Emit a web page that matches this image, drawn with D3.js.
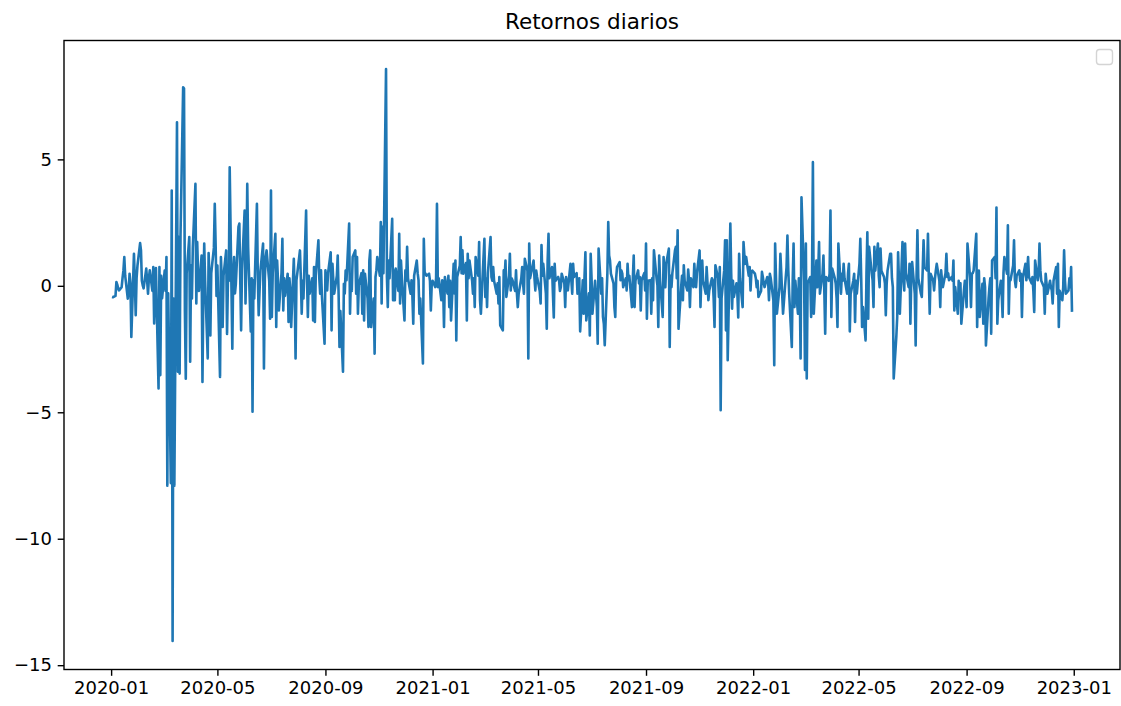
<!DOCTYPE html>
<html>
<head>
<meta charset="utf-8">
<script src="https://cdn.jsdelivr.net/npm/d3@7"></script>
<style>
    body { margin: 0; background: #fff; }
    svg { display: block; font-family: "DejaVu Sans", sans-serif; }
</style>
</head>
<body>
<div id="chart"></div>
<script>
// first and last trading day of the series (one value per weekday)
var startDate = '2020-01-02';
var endDate = '2022-12-30';

// daily returns (%), one per weekday
var returns = [
    -0.44, -0.45, -0.40, 0.15, 0.05, -0.10, -0.18, -0.05, 0.30, 0.60,
    1.14, 0.40, -0.51, -0.20, 0.48, 0.10, -2.02, 1.27, 0.20, -1.16,
    0.30, 0.80, 1.69, 1.40, 0.20, 0.02, -0.10, 0.68, 0.20, -0.31,
    0.30, 0.61, -0.20, 0.74, -1.49, -0.30, 0.70, -4.06, 0.74, -3.53,
    0.40, -0.50, 0.60, -0.20, 1.14, -7.90, -0.30, -7.80, 3.77, -14.04,
    -0.50, -7.90, 6.47, -3.40, 1.93, -3.47, 2.00, 7.85, 7.80, -1.00,
    -3.67, 0.50, 1.93, -3.00, 0.80, -0.50, 1.50, 4.03, -0.70, 1.73,
    0.50, -0.20, 1.20, -3.80, -0.30, 1.67, 0.20, -2.87, 1.30, 0.30,
    -1.96, 0.50, 1.50, 3.24, 1.60, -0.40, 0.80, -3.60, 1.14, 0.20,
    -1.63, 0.40, 1.40, -1.90, 0.22, 0.20, 4.69, -2.49, 0.50, 1.14,
    -0.30, 0.08, 2.33, 2.46, 0.30, -1.76, 0.60, 2.98, -0.70, 1.00,
    4.03, 1.53, -1.80, 0.30, -4.98, 0.22, -0.50, 3.24, 0.40, -1.16,
    -0.18, 0.60, 1.67, -3.27, 0.30, 1.14, 1.40, 0.20, -1.30, 3.77,
    -1.23, 0.50, 2.06, -1.63, 1.00, 0.20, -0.97, 0.50, 1.86, -0.97,
    0.30, -0.40, 0.48, -1.43, 0.30, -0.18, -1.63, 1.07, -0.30, -2.87,
    0.22, 0.50, 1.40, 0.30, -1.10, 0.20, -0.50, 2.98, 0.30, -1.23,
    0.40, -0.31, 0.30, -1.37, 0.74, -1.43, 0.40, 1.80, 0.30, -0.31,
    0.61, -0.40, -2.29, 0.61, 0.10, -0.18, 0.50, 1.33, -1.76, 0.87,
    0.20, -0.31, 0.40, 1.20, -0.31, -2.42, -1.00, -3.40, 0.08, -0.30,
    0.60, 0.22, 2.46, -1.10, 0.40, -0.20, 1.14, 1.40, -0.31, 1.14,
    -1.10, 0.02, 0.50, -1.10, 0.61, -1.37, 0.48, -0.50, -1.63, 1.00,
    1.40, -1.63, -0.50, -2.68, 0.35, 0.60, 1.14, 0.40, 2.52, -0.70,
    2.33, 0.50, 8.57, 0.35, -0.84, 1.00, 0.30, 2.65, -0.57, 0.61,
    -0.57, 0.68, -0.20, 2.06, -0.70, 1.00, 0.30, -1.37, 0.61, 0.20,
    1.54, 0.30, -0.31, 0.22, -0.40, -1.50, 0.40, 1.00, 0.50, 0.22,
    -1.10, -0.50, -3.07, 1.86, 0.50, 0.48, 0.40, 0.48, 0.20, -0.97,
    0.02, 0.20, -0.05, 0.30, 3.24, -0.05, 0.30, -0.57, 0.22, 0.00,
    -1.63, 0.35, -0.31, 0.40, -0.84, 0.20, -1.37, 0.87, -0.30, 1.00,
    -2.16, 0.35, 0.80, 1.93, 0.50, 1.40, 0.48, 0.90, -1.37, 1.27,
    0.30, 1.00, 0.20, -0.31, 0.30, -0.84, 1.14, 0.40, 1.73, -0.57,
    -1.10, -0.31, 1.86, -0.44, 0.30, -0.84, 0.50, 1.93, 0.35, 0.20,
    0.74, 0.20, -0.31, 0.10, -0.70, 0.35, -1.56, -1.76, 0.61, 0.30,
    1.00, -0.44, 0.40, 1.27, -0.18, 0.30, 0.22, -0.20, 0.61, -0.30,
    -0.84, -0.31, 0.30, 0.74, 0.10, -0.31, 1.07, 0.60, -2.87, 1.67,
    0.30, 0.48, 1.00, 0.30, -0.18, 0.60, 0.35, -0.20, -0.70, 1.61,
    0.40, 0.87, -0.30, -1.70, 1.00, 2.06, 0.30, 0.74, -0.30, -1.25,
    0.87, 0.20, 0.35, 0.22, -0.20, -0.05, 0.48, 0.10, -0.84, 0.35,
    0.10, -0.18, 0.87, 0.20, -0.31, 0.87, 0.35, 0.50, -0.31, -0.05,
    0.30, -1.80, 0.22, -1.10, 0.40, 1.33, -1.37, -0.30, -1.96, 1.27,
    0.30, -1.10, 0.20, -0.31, -0.80, -2.29, 1.47, -0.31, 0.30, -1.23,
    -1.50, -2.35, 0.50, 2.52, 1.20, 1.00, 0.48, 0.10, -0.84, -1.23,
    0.30, 0.74, 0.94, 0.22, 0.60, 0.48, -0.05, 0.30, -0.18, 0.87,
    0.22, 0.40, -0.84, 0.30, 1.20, -0.84, 0.20, 0.61, 0.10, 0.35,
    -0.97, 0.22, 0.50, -0.18, 1.67, -1.30, 0.20, 0.22, -1.10, 0.30,
    -0.57, 1.40, 0.30, 0.02, -1.63, 1.20, 0.20, -1.23, 1.14, 0.30,
    -0.05, 0.87, 1.47, -2.42, 0.40, -0.05, 0.50, 1.40, 1.54, 0.30,
    2.20, -1.70, -0.05, 0.40, -0.57, 0.81, 0.20, -0.18, 0.64, 0.20,
    -0.84, 0.30, -0.05, 0.87, 0.20, -0.05, 0.50, 1.40, -0.84, 0.30,
    1.00, 0.20, -0.31, 0.74, 0.10, -0.57, -0.18, 0.30, 0.22, -0.50,
    -1.63, 0.81, 0.30, -0.44, 0.74, -4.92, -0.50, 0.61, 1.80, -1.76,
    1.80, -2.94, 2.46, 0.50, -0.90, 0.20, -0.44, 0.10, -0.31, -1.25,
    1.27, 0.30, -0.84, 1.73, 1.20, 0.87, 1.14, 0.40, 0.74, -0.18,
    0.55, 0.60, 0.48, 0.30, -0.05, 0.20, -0.44, -0.20, 0.55, 0.35,
    0.10, -0.05, 0.35, 0.20, -0.57, 0.48, 0.30, -0.57, -3.14, 1.67,
    0.30, -1.10, -0.05, 1.27, 0.50, -0.31, -1.10, 0.30, 0.74, 1.99,
    0.60, -0.31, -2.42, 0.20, 1.67, -0.84, 0.20, -1.10, 0.30, 0.02,
    -2.87, 3.50, 0.20, -3.33, 1.67, -3.66, 0.10, 0.35, -1.23, 0.30,
    4.89, -1.10, 1.00, -0.05, 0.50, 1.73, -0.31, 0.48, 1.20, -0.20,
    -1.89, 0.35, 0.20, 0.48, 2.98, -1.23, 0.68, 0.30, 0.08, -0.50,
    -1.63, 1.67, -0.31, 0.48, 0.20, 0.87, 0.30, -0.31, 0.48, 0.87,
    -1.80, -0.31, 0.20, 0.48, -1.43, 0.20, -0.31, 0.87, 1.86, 0.30,
    -1.63, -0.84, -2.16, 0.50, 2.12, -1.30, 1.54, 0.50, 0.22, -0.84,
    1.54, 0.60, 1.67, 0.40, -0.05, 1.47, 0.60, 0.35, 0.10, -1.16,
    0.08, 0.60, 1.27, 1.27, 0.30, -0.05, -3.66, -2.00, -1.23, 1.33,
    0.20, -1.10, 1.73, 0.30, -0.18, 1.67, 0.50, -0.05, 0.87, -1.50,
    0.30, 0.94, -0.31, -2.36, 0.35, 2.20, 0.30, -0.31, -0.44, 0.60,
    1.80, 0.74, 0.61, 2.06, 0.30, -1.10, 0.48, 0.20, -0.18, 0.30,
    0.61, 0.87, 0.20, -0.84, 0.61, 0.22, -0.05, 0.50, 1.27, 0.35,
    0.50, 0.22, 0.35, 0.20, 1.00, -0.97, -0.05, -1.10, 0.20, -0.31,
    0.10, -1.50, -0.18, 0.20, -0.18, -0.84, 1.67, 0.30, -0.84, 0.48,
    0.50, 0.60, 2.06, -1.63, 0.35, 0.60, -1.23, 0.08, -1.50, 0.30,
    -0.05, -2.36, -0.50, -0.05, 0.30, -1.89, 1.00, 1.14, 0.30, 3.10,
    -1.50, -0.57, 0.20, -0.31, -1.23, 0.50, 1.14, 0.48, 2.39, -1.10,
    0.30, 0.22, 0.80, 1.80, 0.22, -0.05, 0.40, 0.61, 0.20, 0.48,
    -1.23, 0.30, 0.87, 0.22, 0.60, 1.14, 0.35, 0.10, 0.35, -0.20,
    -1.03, 1.00, 0.22, 0.50, 1.67, 0.61, 0.20, -0.05, -1.10, 0.48,
    0.10, -0.31, 0.20, -0.05, -0.18, -0.70, 0.20, 0.74, -0.31, 0.87,
    -1.63, -0.20, -0.57, -0.05, 1.40, 0.20, -0.31, -0.18, 0.30, -0.05,
    0.74, -1.03
];

var xTickLabels = ['2020-01', '2020-05', '2020-09', '2021-01', '2021-05',
    '2021-09', '2022-01', '2022-05', '2022-09', '2023-01'];
var yTicks = [-15, -10, -5, 0, 5];
var chartTitle = 'Retornos diarios';

var W = 1121, H = 706;
var margin = {top: 40.5, right: 1, bottom: 36.5, left: 64};
var width = W - margin.left - margin.right,
    height = H - margin.top - margin.bottom;

var parseDay = d3.utcParse('%Y-%m-%d');
var parseMonth = d3.utcParse('%Y-%m');

// weekdays between start and end, paired with the returns
var days = d3.utcDay.range(parseDay(startDate), d3.utcDay.offset(parseDay(endDate), 1))
    .filter(function(d) { return d.getUTCDay() !== 0 && d.getUTCDay() !== 6; });
var n = Math.min(days.length, returns.length);
var data = [];
for (var i = 0; i < n; i++) {
    data.push({date: days[i], value: returns[i]});
}

// matplotlib style 5% margins on both axes
var xExt = d3.extent(data, function(d) { return +d.date; });
var xPad = (xExt[1] - xExt[0]) * 0.05;
var yExt = d3.extent(data, function(d) { return d.value; });
var yPad = (yExt[1] - yExt[0]) * 0.05;

var x = d3.scaleUtc()
    .domain([new Date(xExt[0] - xPad), new Date(xExt[1] + xPad)])
    .range([0, width]);
var y = d3.scaleLinear()
    .domain([yExt[0] - yPad, yExt[1] + yPad])
    .range([height, 0]);

var svg = d3.select('#chart').append('svg')
    .attr('width', W)
    .attr('height', H);

svg.append('text')
    .attr('x', margin.left + width / 2)
    .attr('y', 28.5)
    .attr('text-anchor', 'middle')
    .style('font-size', '21.5px')
    .text(chartTitle);

var g = svg.append('g')
    .attr('transform', 'translate(' + margin.left + ',' + margin.top + ')');

g.append('clipPath').attr('id', 'clip')
  .append('rect')
    .attr('width', width)
    .attr('height', height);

var line = d3.line()
    .x(function(d) { return x(d.date); })
    .y(function(d) { return y(d.value); });

g.append('path')
    .datum(data)
    .attr('clip-path', 'url(#clip)')
    .attr('fill', 'none')
    .attr('stroke', '#1f77b4')
    .attr('stroke-width', 2.6)
    .attr('stroke-linejoin', 'round')
    .attr('d', line);

// axes
var xAxis = d3.axisBottom(x)
    .tickValues(xTickLabels.map(function(s) { return parseMonth(s); }))
    .tickFormat(d3.utcFormat('%Y-%m'))
    .tickSizeInner(6.3).tickSizeOuter(0).tickPadding(5.5);
var yAxis = d3.axisLeft(y)
    .tickValues(yTicks)
    .tickFormat(function(d) { return d < 0 ? '\u2212' + Math.abs(d) : d; })
    .tickSizeInner(6.3).tickSizeOuter(0).tickPadding(5.8);

var gx = g.append('g')
    .attr('transform', 'translate(0,' + height + ')')
    .call(xAxis);
var gy = g.append('g').call(yAxis);

[gx, gy].forEach(function(ax) {
    ax.select('.domain').remove();
    ax.selectAll('line').attr('stroke', '#000').attr('stroke-width', 1.4);
    ax.selectAll('text')
        .attr('fill', '#000')
        .style('font-size', '18px')
        .style('font-family', '"DejaVu Sans", sans-serif');
});

// frame
g.append('rect')
    .attr('width', width)
    .attr('height', height)
    .attr('fill', 'none')
    .attr('stroke', '#000')
    .attr('stroke-width', 1.4);

// empty legend box, upper right
g.append('rect')
    .attr('x', width - 23.5)
    .attr('y', 9)
    .attr('width', 16)
    .attr('height', 15)
    .attr('rx', 3)
    .attr('fill', '#fff')
    .attr('fill-opacity', 0.8)
    .attr('stroke', '#d4d4d4')
    .attr('stroke-width', 1.4);
</script>
</body>
</html>
